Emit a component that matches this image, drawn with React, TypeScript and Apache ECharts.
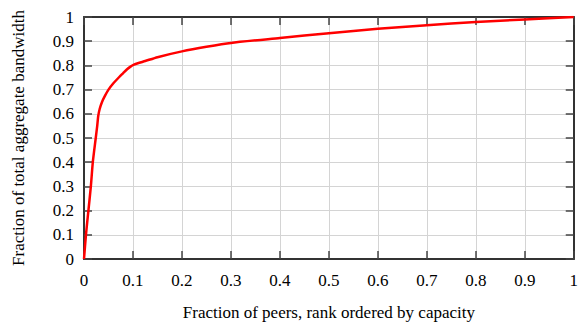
import React, { useEffect, useRef } from "react";
import * as echarts from "echarts";

const xValues = [0, 0.004, 0.009, 0.014, 0.018, 0.024, 0.027, 0.029, 0.032, 0.037, 0.043, 0.05, 0.06, 0.071, 0.08, 0.088, 0.095, 0.102, 0.11, 0.125, 0.15, 0.2, 0.25, 0.3, 0.4, 0.5, 0.6, 0.7, 0.8, 0.9, 1.0];
const yValues = [0, 0.1, 0.2, 0.3, 0.4, 0.5, 0.55, 0.59, 0.62, 0.65, 0.675, 0.7, 0.726, 0.75, 0.768, 0.784, 0.795, 0.803, 0.809, 0.818, 0.834, 0.858, 0.877, 0.893, 0.913, 0.933, 0.951, 0.966, 0.979, 0.99, 1.0];

const xTitle = "Fraction of peers, rank ordered by capacity";
const yTitle = "Fraction of total aggregate bandwidth";

const FONT = "'Liberation Serif', 'Times New Roman', serif";

export default function App() {
  const ref = useRef<HTMLDivElement>(null);
  useEffect(() => {
    if (!ref.current) return;
    const chart = echarts.init(ref.current, undefined, { renderer: "svg" });
    const axisLine = { show: true, onZero: false, lineStyle: { color: "#333", width: 2 } };
    const tick = { show: true, inside: true, length: 8, lineStyle: { color: "#444", width: 1.5 } };
    const grid = { show: true, lineStyle: { color: "#d4d4d4", width: 1 } };
    const label = { color: "#000", fontFamily: FONT, fontSize: 17 };
    const fmt = (v: number) => (Math.abs(v) < 1e-9 ? "0" : String(Math.round(v * 10) / 10));
    chart.setOption({
      animation: false,
      backgroundColor: "#fff",
      textStyle: { fontFamily: FONT },
      grid: { left: 84, right: 7, top: 17, bottom: 64, containLabel: false },
      xAxis: [
        {
          type: "value", min: 0, max: 1, interval: 0.1, position: "bottom",
          axisLine, axisTick: tick, splitLine: grid,
          axisLabel: { ...label, margin: 13, formatter: fmt },
          name: xTitle, nameLocation: "middle", nameGap: 45,
          nameTextStyle: { color: "#000", fontFamily: FONT, fontSize: 17 },
        },
        {
          type: "value", min: 0, max: 1, interval: 0.1, position: "top",
          axisLine, axisTick: tick, splitLine: { show: false }, axisLabel: { show: false },
        },
      ],
      yAxis: [
        {
          type: "value", min: 0, max: 1, interval: 0.1, position: "left",
          axisLine, axisTick: tick, splitLine: grid,
          axisLabel: { ...label, margin: 10, formatter: fmt },
          name: yTitle, nameLocation: "middle", nameGap: 57,
          nameTextStyle: { color: "#000", fontFamily: FONT, fontSize: 17 },
        },
        {
          type: "value", min: 0, max: 1, interval: 0.1, position: "right",
          axisLine, axisTick: tick, splitLine: { show: false }, axisLabel: { show: false },
        },
      ],
      series: [
        {
          type: "line",
          data: xValues.map((x, i) => [x, yValues[i]]),
          showSymbol: false,
          smooth: 0.2,
          lineStyle: { color: "#ff0000", width: 2.5 },
          xAxisIndex: 0, yAxisIndex: 0,
          z: 5,
        },
      ],
    });
    return () => chart.dispose();
  }, []);
  return <div ref={ref} style={{ width: 581, height: 326, position: "absolute", left: 0, top: 0 }} />;
}
